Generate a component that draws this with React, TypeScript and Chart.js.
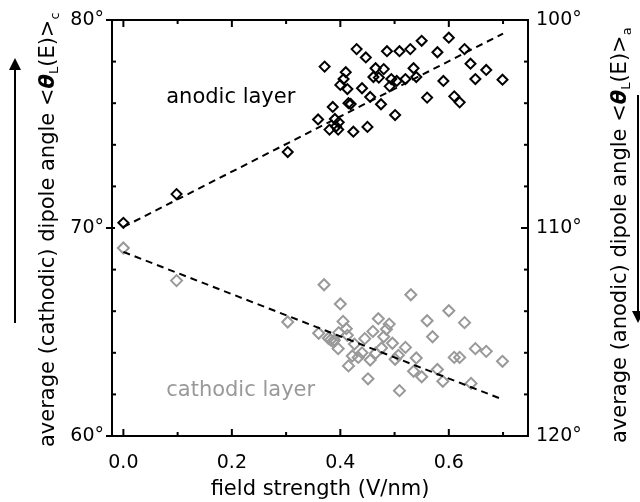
import React, { useEffect, useRef } from "react";
import { Chart, registerables } from "chart.js";

Chart.register(...registerables);

// ---- data ----
const anodicX = [0.0, 0.098, 0.303, 0.359, 0.371, 0.38, 0.386, 0.39, 0.396, 0.397, 0.392, 0.4, 0.406, 0.41, 0.413, 0.415, 0.419, 0.424, 0.43, 0.44, 0.447, 0.45, 0.455, 0.461, 0.465, 0.471, 0.475, 0.48, 0.486, 0.491, 0.494, 0.501, 0.504, 0.509, 0.52, 0.529, 0.535, 0.54, 0.55, 0.56, 0.579, 0.59, 0.6, 0.61, 0.62, 0.629, 0.64, 0.649, 0.669, 0.699];
const anodicY = [70.25, 71.63, 73.65, 75.22, 77.76, 74.73, 75.82, 75.24, 74.73, 75.08, 74.88, 76.88, 77.16, 77.49, 76.68, 76.0, 75.96, 74.63, 78.6, 76.72, 78.2, 74.86, 76.3, 77.26, 77.68, 77.23, 75.95, 77.64, 78.5, 76.81, 77.16, 75.43, 77.07, 78.5, 77.16, 78.6, 77.68, 77.26, 79.0, 76.27, 78.45, 77.07, 79.15, 76.33, 76.04, 78.6, 77.9, 77.16, 77.6, 77.13];

const cathodicX = [0.0, 0.098, 0.303, 0.36, 0.37, 0.378, 0.382, 0.386, 0.389, 0.396, 0.397, 0.4, 0.405, 0.411, 0.413, 0.415, 0.422, 0.426, 0.433, 0.44, 0.445, 0.451, 0.455, 0.46, 0.465, 0.47, 0.476, 0.48, 0.485, 0.49, 0.496, 0.501, 0.507, 0.509, 0.52, 0.53, 0.535, 0.54, 0.55, 0.56, 0.57, 0.579, 0.589, 0.6, 0.61, 0.62, 0.629, 0.641, 0.649, 0.669, 0.699];
const cathodicY = [69.04, 67.47, 65.48, 64.94, 67.27, 64.7, 64.62, 64.55, 64.6, 64.2, 64.97, 66.35, 65.51, 65.16, 64.84, 63.37, 63.85, 64.42, 63.78, 64.0, 64.68, 62.75, 63.65, 65.03, 63.98, 65.64, 64.23, 64.77, 65.13, 65.38, 64.46, 63.69, 63.88, 62.18, 64.26, 66.79, 63.11, 63.75, 62.85, 65.54, 64.77, 63.2, 62.63, 66.02, 63.78, 63.78, 65.45, 62.53, 64.2, 64.07, 63.59];

const anodicFitX = [0.0, 0.7];
const anodicFitY = [70.05, 79.35];
const cathodicFitX = [0.0, 0.7];
const cathodicFitY = [68.85, 61.75];

const xMajorTicks = [0.0, 0.2, 0.4, 0.6];
const xMinorTicks = [0.1, 0.3, 0.5, 0.7];
const leftMajorTicks = [60, 70, 80];
const leftMinorTicks = [62, 64, 66, 68, 72, 74, 76, 78];
const rightMajorTicks = [100, 110, 120];
const rightMinorTicks = [102, 104, 106, 108, 112, 114, 116, 118];

const layerLabels = ["anodic layer", "cathodic layer"];
const layerLabelX = [0.079, 0.079];
const layerLabelY = [76.25, 62.2];

const xTitle = "field strength (V/nm)";
const leftTitle = "average (cathodic) dipole angle <";
const rightTitle = "average (anodic) dipole angle <";
const leftSub = "c";
const rightSub = "a";

const FONT = "'DejaVu Sans', sans-serif";
const GRAY = "#999999";

const pts = (xs: number[], ys: number[]) => xs.map((x, i) => ({ x, y: ys[i] }));

function drawRich(ctx: CanvasRenderingContext2D, x: number, y: number, parts: { t: string; f: string; dy: number }[]) {
  ctx.save();
  ctx.translate(x, y);
  ctx.rotate(-Math.PI / 2);
  ctx.textAlign = "left";
  ctx.textBaseline = "alphabetic";
  let cx = 0;
  for (const p of parts) {
    ctx.font = p.f;
    ctx.fillText(p.t, cx, p.dy);
    cx += ctx.measureText(p.t).width;
  }
  ctx.restore();
}

function arrow(ctx: CanvasRenderingContext2D, x: number, y0: number, y1: number) {
  const dir = y1 < y0 ? -1 : 1;
  ctx.save();
  ctx.strokeStyle = "#000";
  ctx.fillStyle = "#000";
  ctx.lineWidth = 2;
  ctx.beginPath();
  ctx.moveTo(x, y0);
  ctx.lineTo(x, y1 - dir * 10);
  ctx.stroke();
  ctx.beginPath();
  ctx.moveTo(x, y1);
  ctx.lineTo(x - 6, y1 - dir * 12);
  ctx.lineTo(x + 6, y1 - dir * 12);
  ctx.closePath();
  ctx.fill();
  ctx.restore();
}

const decorPlugin = {
  id: "decor",
  afterDraw(chart: any) {
    const { ctx, chartArea: a, scales } = chart;
    const xs = scales.x, yl = scales.y, yr = scales.y2;
    ctx.save();
    ctx.strokeStyle = "#000";
    ctx.lineWidth = 2;
    ctx.strokeRect(a.left, a.top, a.right - a.left, a.bottom - a.top);
    const seg = (x1: number, y1: number, x2: number, y2: number) => {
      ctx.beginPath();
      ctx.moveTo(x1, y1);
      ctx.lineTo(x2, y2);
      ctx.stroke();
    };
    xMajorTicks.forEach((v) => {
      const p = xs.getPixelForValue(v);
      seg(p, a.bottom, p, a.bottom - 7);
      seg(p, a.top, p, a.top + 7);
    });
    xMinorTicks.forEach((v) => {
      const p = xs.getPixelForValue(v);
      seg(p, a.bottom, p, a.bottom - 4);
      seg(p, a.top, p, a.top + 4);
    });
    leftMajorTicks.forEach((v) => {
      const p = yl.getPixelForValue(v);
      seg(a.left - 6, p, a.left + 3, p);
    });
    leftMinorTicks.forEach((v) => {
      const p = yl.getPixelForValue(v);
      seg(a.left, p, a.left + 4, p);
    });
    rightMajorTicks.forEach((v) => {
      const p = yr.getPixelForValue(v);
      seg(a.right, p, a.right - 7, p);
    });
    rightMinorTicks.forEach((v) => {
      const p = yr.getPixelForValue(v);
      seg(a.right, p, a.right - 4, p);
    });
    ctx.restore();

    // layer labels
    ctx.save();
    ctx.font = `21px ${FONT}`;
    ctx.textAlign = "left";
    ctx.textBaseline = "middle";
    layerLabels.forEach((t, i) => {
      ctx.fillStyle = i === 0 ? "#000" : GRAY;
      ctx.fillText(t, xs.getPixelForValue(layerLabelX[i]), yl.getPixelForValue(layerLabelY[i]));
    });
    ctx.restore();

    // axis titles
    ctx.save();
    ctx.fillStyle = "#000";
    const big = `21px ${FONT}`;
    const theta = `italic bold 21px ${FONT}`;
    const small = `13px ${FONT}`;
    drawRich(ctx, 54, 447, [
      { t: leftTitle, f: big, dy: 0 },
      { t: "θ", f: theta, dy: 0 },
      { t: "L", f: small, dy: 4 },
      { t: "(E)>", f: big, dy: 0 },
      { t: leftSub, f: small, dy: 5 },
    ]);
    drawRich(ctx, 626, 443, [
      { t: rightTitle, f: big, dy: 0 },
      { t: "θ", f: theta, dy: 0 },
      { t: "L", f: small, dy: 4 },
      { t: "(E)>", f: big, dy: 0 },
      { t: rightSub, f: small, dy: 5 },
    ]);
    ctx.restore();

    arrow(ctx, 15, 323, 58);
    arrow(ctx, 638, 95, 323);
  },
};

export default function App() {
  const ref = useRef<HTMLCanvasElement | null>(null);
  useEffect(() => {
    if (!ref.current) return;
    const chart = new Chart(ref.current, {
      type: "scatter",
      data: {
        datasets: [
          {
            label: "anodic fit",
            data: pts(anodicFitX, anodicFitY),
            showLine: true,
            borderColor: "#000",
            borderWidth: 2,
            borderDash: [7, 5],
            pointRadius: 0,
            yAxisID: "y",
          },
          {
            label: "cathodic fit",
            data: pts(cathodicFitX, cathodicFitY),
            showLine: true,
            borderColor: "#000",
            borderWidth: 2,
            borderDash: [7, 5],
            pointRadius: 0,
            yAxisID: "y",
          },
          {
            label: "anodic layer",
            data: pts(anodicX, anodicY),
            pointStyle: "rectRot",
            pointRadius: 5,
            borderColor: "#000",
            backgroundColor: "rgba(0,0,0,0)",
            borderWidth: 2,
            yAxisID: "y",
          },
          {
            label: "cathodic layer",
            data: pts(cathodicX, cathodicY),
            pointStyle: "rectRot",
            pointRadius: 5.5,
            borderColor: GRAY,
            backgroundColor: "rgba(0,0,0,0)",
            borderWidth: 2,
            yAxisID: "y",
          },
        ],
      },
      options: {
        responsive: false,
        animation: false,
        layout: { padding: { top: 20, left: 0, right: 0, bottom: 0 } },
        plugins: { legend: { display: false }, tooltip: { enabled: false } },
        scales: {
          x: {
            type: "linear",
            position: "bottom",
            min: -0.021,
            max: 0.746,
            grid: { display: false, drawTicks: false },
            border: { display: false },
            afterBuildTicks: (s: any) => {
              s.ticks = xMajorTicks.map((v) => ({ value: v }));
            },
            afterFit: (s: any) => {
              s.height = 66;
            },
            ticks: {
              color: "#000",
              font: { family: FONT, size: 19 },
              padding: 16,
              maxRotation: 0,
              callback: (v: any) => Number(v).toFixed(1),
            },
            title: {
              display: true,
              text: xTitle,
              color: "#000",
              font: { family: FONT, size: 21 },
              padding: { top: 0, bottom: 0 },
            },
          },
          y: {
            type: "linear",
            position: "left",
            min: 60,
            max: 80,
            grid: { display: false, drawTicks: false },
            border: { display: false },
            afterBuildTicks: (s: any) => {
              s.ticks = leftMajorTicks.map((v) => ({ value: v }));
            },
            afterFit: (s: any) => {
              s.width = 112;
            },
            ticks: {
              color: "#000",
              font: { family: FONT, size: 19 },
              padding: 8,
              callback: (v: any) => `${v}°`,
            },
          },
          y2: {
            type: "linear",
            position: "right",
            min: 100,
            max: 120,
            reverse: true,
            grid: { display: false, drawTicks: false },
            border: { display: false },
            afterBuildTicks: (s: any) => {
              s.ticks = rightMajorTicks.map((v) => ({ value: v }));
            },
            afterFit: (s: any) => {
              s.width = 112;
            },
            ticks: {
              color: "#000",
              font: { family: FONT, size: 19 },
              padding: 8,
              callback: (v: any) => `${v}°`,
            },
          },
        },
      },
      plugins: [decorPlugin],
    });
    return () => chart.destroy();
  }, []);
  return (
    <div style={{ position: "absolute", left: 0, top: 0, width: 640, height: 502, background: "#fff" }}>
      <canvas ref={ref} width={640} height={502} style={{ width: 640, height: 502 }} />
    </div>
  );
}
